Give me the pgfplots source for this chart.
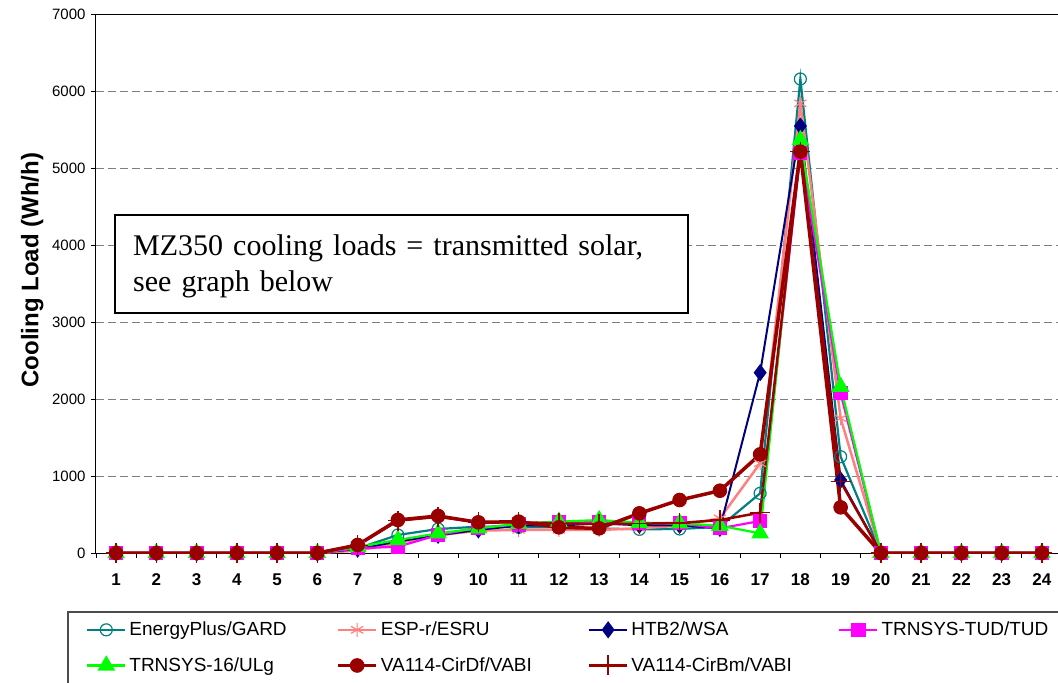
\documentclass[border=0pt]{standalone}
\usepackage{fontspec}
\setmainfont{Liberation Sans}
\newfontfamily\timesfont{Liberation Serif}
\usepackage{pgfplots}
\pgfplotsset{compat=1.18}
\usepackage{pgfplotstable}

\definecolor{epteal}{RGB}{0,128,128}
\definecolor{espsalmon}{RGB}{255,128,128}
\definecolor{htbnavy}{RGB}{0,0,128}
\definecolor{tudmag}{RGB}{255,0,255}
\definecolor{ulggreen}{RGB}{0,255,0}
\definecolor{vabired}{RGB}{153,0,0}

% hourly cooling load (Wh/h)
\pgfplotstableread{
hour EP   ESP  HTB  TUD  T16  Df   Bm
1    0    0    0    0    0    0    0
2    0    0    0    0    0    0    0
3    0    0    0    0    0    0    0
4    0    0    0    0    0    0    0
5    0    0    0    0    0    0    0
6    0    0    0    0    0    0    0
7    60   30   50   60   80   104  100
8    234  130  150  82   169  429  420
9    312  230  230  234  255  481  470
10   342  290  300  330  320  398  400
11   333  300  355  370  380  407  400
12   333  300  355  407  407  333  385
13   320  299  385  407  428  320  375
14   307  320  360  385  394  515  380
15   312  355  360  385  385  688  390
16   340  450  320  320  355  809  428
17   775  1165 2342 416  255  1281 524
18   6156 5840 5545 5200 5364 5212 5212
19   1251 1749 948  2074 2160 593  926
20   0    0    0    0    0    0    0
21   0    0    0    0    0    0    0
22   0    0    0    0    0    0    0
23   0    0    0    0    0    0    0
24   0    0    0    0    0    0    0
}\loads

\begin{document}
\begin{tikzpicture}
\begin{axis}[
    at={(0pt,0pt)}, anchor=south west,
    scale only axis,
    width=966pt, height=539pt,
    xmin=0.5, xmax=24.5,
    ymin=0, ymax=7000,
    xtick={1,...,24},
    minor xtick={0.5,1.5,...,24.5},
    ytick={0,1000,...,7000},
    xtick pos=bottom, ytick pos=left,
    tick align=outside,
    major tick length=5pt,
    minor tick length=5pt,
    major x tick style={draw=none},
    tick style={black, line width=0.8pt},
    axis line style={black, line width=1pt},
    ymajorgrids,
    major grid style={gray, line width=1pt, dash pattern=on 8pt off 4pt},
    /pgf/number format/assume math mode=true,
    /pgf/number format/1000 sep={},
    yticklabel style={font=\fontsize{15}{15}\selectfont, xshift=-2pt},
    xticklabel style={font=\bfseries\fontsize{17}{17}\selectfont, yshift=-12pt},
    ylabel={Cooling Load (Wh/h)},
    ylabel style={font=\bfseries\fontsize{24}{24}\selectfont,
                  at={(axis description cs:-0.066,0.525)}, anchor=center},
    legend columns=4,
    legend cell align=left,
    legend style={at={(axis description cs:0,0)}, anchor=north west,
                  xshift=-13pt, yshift=-65pt, draw=none, fill=none,
                  font=\fontsize{19}{19}\selectfont,
                  nodes={text width=204pt, inner xsep=3pt},
                  row sep=16pt},
    legend image code/.code={
        \draw[mark repeat=2,mark phase=2] plot coordinates {(0pt,0pt) (19pt,0pt) (38pt,0pt)};},
]
\addplot[epteal, line width=2.2pt, mark=o, mark size=6pt,
         mark options={solid, line width=1.2pt}] table[x=hour, y=EP] {\loads};
\addlegendentry{EnergyPlus/GARD}
\addplot[espsalmon, line width=2.5pt, mark=asterisk, mark size=7pt,
         mark options={solid, line width=1.2pt}] table[x=hour, y=ESP] {\loads};
\addlegendentry{ESP-r/ESRU}
\addplot[htbnavy, line width=2pt, mark=diamond*, mark size=7pt,
         mark options={solid}] table[x=hour, y=HTB] {\loads};
\addlegendentry{HTB2/WSA}
\addplot[tudmag, line width=2.2pt, mark=square*, mark size=6pt,
         mark options={solid}] table[x=hour, y=TUD] {\loads};
\addlegendentry{TRNSYS-TUD/TUD}
\addplot[ulggreen, line width=2.2pt, mark=triangle*, mark size=8pt,
         mark options={solid}] table[x=hour, y=T16] {\loads};
\addlegendentry{TRNSYS-16/ULg}
\addplot[vabired, line width=3.5pt, mark=*, mark size=6.8pt,
         mark options={solid, line width=1pt}] table[x=hour, y=Df] {\loads};
\addlegendentry{VA114-CirDf/VABI}
\addplot[vabired, line width=2.5pt, mark=+, mark size=10pt,
         mark options={solid, line width=1.3pt}] table[x=hour, y=Bm] {\loads};
\addlegendentry{VA114-CirBm/VABI}
\end{axis}
% note box: frame and text drawn separately
\draw[line width=1.5pt, fill=white] (19pt,338pt) rectangle (592pt,240pt);
\node[anchor=north west, inner sep=0pt, text width=537pt, align=left,
      font=\timesfont\fontsize{30}{36}\selectfont]
      at (37pt,319pt) {MZ350 cooling loads = transmitted solar,\\see graph below};
% legend frame
\draw[line width=1.2pt, black!70] (-28pt,-59pt) rectangle (1000pt,-200pt);
\pgfresetboundingbox
\useasboundingbox (-96pt,-130pt) rectangle (962pt,553pt);
\end{tikzpicture}
\end{document}
